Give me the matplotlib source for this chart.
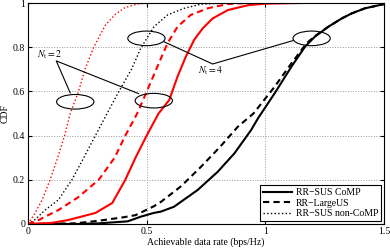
import matplotlib
matplotlib.use("Agg")
import matplotlib.pyplot as plt
from matplotlib.patches import Ellipse

plt.rcParams['font.family'] = ['Liberation Serif', 'DejaVu Serif']
plt.rcParams['mathtext.fontset'] = 'stix'

# CDF curves (rate in bps/Hz, CDF)
# Nt = 2 (red)
red_comp_x = [0, 0.1, 0.17, 0.284, 0.355, 0.41, 0.453, 0.5, 0.55, 0.595, 0.63, 0.665, 0.70, 0.736, 0.778, 0.842, 0.927, 1.0, 1.15]
red_comp_y = [0, 0.005, 0.018, 0.05, 0.095, 0.2, 0.3, 0.4, 0.5, 0.561, 0.667, 0.757, 0.833, 0.885, 0.93, 0.968, 0.99, 0.997, 1.0]
red_large_x = [0, 0.04, 0.072, 0.128, 0.21, 0.298, 0.365, 0.41, 0.46, 0.503, 0.545, 0.588, 0.63, 0.686, 0.757, 0.84, 0.92]
red_large_y = [0, 0.015, 0.033, 0.063, 0.12, 0.2, 0.3, 0.4, 0.5, 0.606, 0.712, 0.818, 0.893, 0.946, 0.976, 0.995, 1.0]
red_noncomp_x = [0, 0.03, 0.06, 0.093, 0.125, 0.154, 0.178, 0.213, 0.24, 0.277, 0.326, 0.369, 0.41, 0.46, 0.5]
red_noncomp_y = [0, 0.05, 0.11, 0.2, 0.3, 0.4, 0.5, 0.6, 0.7, 0.8, 0.9, 0.95, 0.98, 0.995, 1.0]
# Nt = 4 (black)
blk_comp_x = [0, 0.2, 0.3, 0.42, 0.475, 0.53, 0.56, 0.615, 0.715, 0.8, 0.87, 0.94, 0.969, 1.039, 1.11, 1.167, 1.209, 1.266, 1.322, 1.364, 1.42, 1.5]
blk_comp_y = [0, 0.0, 0.003, 0.012, 0.033, 0.05, 0.056, 0.078, 0.154, 0.237, 0.32, 0.425, 0.478, 0.591, 0.712, 0.802, 0.848, 0.893, 0.93, 0.953, 0.976, 0.995]
blk_large_x = [0, 0.2, 0.3, 0.4, 0.453, 0.53, 0.56, 0.644, 0.73, 0.81, 0.884, 0.95, 1.039, 1.11, 1.174, 1.209, 1.266, 1.322, 1.364, 1.42, 1.5]
blk_large_y = [0, 0.003, 0.015, 0.03, 0.04, 0.08, 0.1, 0.17, 0.26, 0.35, 0.44, 0.5, 0.621, 0.727, 0.818, 0.85, 0.893, 0.93, 0.953, 0.976, 0.995]
blk_noncomp_x = [0, 0.03, 0.072, 0.128, 0.185, 0.235, 0.284, 0.333, 0.383, 0.436, 0.475, 0.531, 0.588, 0.658, 0.73, 0.85]
blk_noncomp_y = [0, 0.02, 0.063, 0.109, 0.2, 0.3, 0.4, 0.5, 0.6, 0.7, 0.795, 0.893, 0.946, 0.976, 0.995, 1.0]

legend_labels = ['RR\u2212SUS CoMP', 'RR\u2212LargeUS', 'RR\u2212SUS non-CoMP']

fig = plt.figure(figsize=(3.9, 2.48), dpi=100)
ax = fig.add_axes([0.0718, 0.0968, 0.9128, 0.8911])

lw = 1.5
h1, = ax.plot(blk_comp_x, blk_comp_y, 'k-', lw=lw)
h2, = ax.plot(blk_large_x, blk_large_y, 'k--', lw=lw, dashes=(3, 2))
h3, = ax.plot(blk_noncomp_x, blk_noncomp_y, 'k:', lw=1.0)
ax.plot(red_comp_x, red_comp_y, '-', color='red', lw=lw)
ax.plot(red_large_x, red_large_y, '--', color='red', lw=lw, dashes=(3, 2))
ax.plot(red_noncomp_x, red_noncomp_y, ':', color='red', lw=1.0)

# annotation ellipses
for cx, cy in [(0.199, 0.553), (0.53, 0.558), (0.499, 0.84), (1.195, 0.84)]:
    ax.add_patch(Ellipse((cx, cy), 0.157, 0.066, fill=False, ec='black', lw=0.8, zorder=5))

ax.plot([0.178, 0.119, 0.466], [0.593, 0.738, 0.59], color='black', lw=0.8)
ax.plot([0.572, 0.778, 1.117], [0.825, 0.724, 0.83], color='black', lw=0.8)
ax.text(0.04, 0.765, r'$N_{\rm t} = 2$', fontsize=7, va='center', ha='left')
ax.text(0.77, 0.695, r'$N_{\rm t} = 4$', fontsize=7, va='center', ha='center')

ax.set_xlim(0, 1.5)
ax.set_ylim(0, 1)
ax.set_xticks([0, 0.5, 1, 1.5])
ax.set_xticklabels(['0', '0.5', '1', '1.5'])
ax.set_yticks([0, 0.2, 0.4, 0.6, 0.8, 1])
ax.set_yticklabels(['0', '0.2', '0.4', '0.6', '0.8', '1'])
ax.grid(True, linestyle=':', color='#999999', lw=0.7)
ax.tick_params(direction='in', top=True, right=True, labelsize=7, length=3, pad=2)
for s in ax.spines.values():
    s.set_linewidth(0.8)
ax.set_xlabel('Achievable data rate (bps/Hz)', fontsize=7, labelpad=1)
ax.set_ylabel('CDF', fontsize=7, labelpad=2)

leg = ax.legend([h1, h2, h3], legend_labels, loc='lower right', fontsize=7,
                fancybox=False, framealpha=1, edgecolor='black',
                handlelength=3, borderpad=0.3, labelspacing=0.15, handletextpad=0.4,
                borderaxespad=0.3)
leg.get_frame().set_linewidth(0.8)

fig.savefig('out.png', dpi=100)
